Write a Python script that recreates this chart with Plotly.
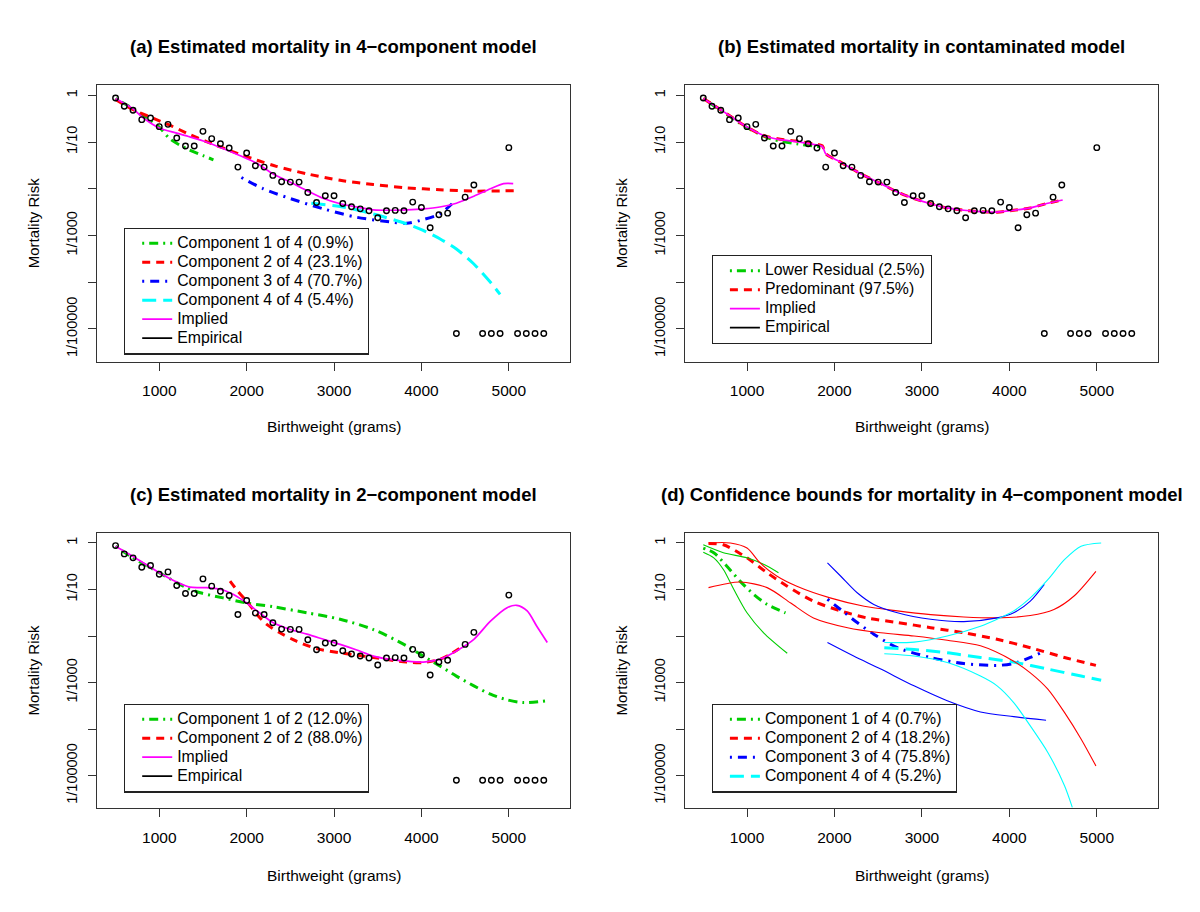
import numpy as np
import plotly.graph_objects as go

# ---------------- data ----------------
# Birthweight categories (grams) and empirical mortality rates (0 = no deaths)
BIRTHWEIGHT = [500, 600, 700, 800, 900, 1000, 1100, 1200, 1300, 1400,
               1500, 1600, 1700, 1800, 1900, 2000, 2100, 2200, 2300, 2400,
               2500, 2600, 2700, 2800, 2900, 3000, 3100, 3200, 3300, 3400,
               3500, 3600, 3700, 3800, 3900, 4000, 4100, 4200, 4300, 4400,
               4500, 4600, 4700, 4800, 4900, 5000, 5100, 5200, 5300, 5400]
EMPIRICAL_RATE = [0.877, 0.581, 0.478, 0.301, 0.327, 0.213, 0.239, 0.122, 0.082, 0.082,
                  0.169, 0.118, 0.092, 0.0743, 0.0291, 0.0581, 0.0311, 0.0291, 0.0193, 0.0141,
                  0.0139, 0.0139, 0.00834, 0.00509, 0.00708, 0.00708, 0.00485, 0.00411, 0.00372, 0.00338,
                  0.00239, 0.00338, 0.00344, 0.00338, 0.00518, 0.00398, 0.00146, 0.00277, 0.00301, 0.0,
                  0.00662, 0.0120, 0.0, 0.0, 0.0, 0.0757, 0.0, 0.0, 0.0, 0.0]
ZERO_DISPLAY_RATE = 8e-6   # where zero-mortality bins are drawn

# (a) 4-component model : curves as (birthweight, log10 risk)
A_C1_BW = [500, 700, 890, 1000, 1120, 1310, 1500, 1620]
A_C1_LOG = [-0.07, -0.29, -0.54, -0.68, -0.93, -1.14, -1.29, -1.38]
A_C2_BW = [500, 700, 890, 1120, 1350, 1540, 1920, 2120, 2340, 2690, 3070, 3450, 3830, 4210, 4600, 5070]
A_C2_LOG = [-0.09, -0.31, -0.46, -0.64, -0.84, -0.99, -1.26, -1.39, -1.52, -1.68, -1.82, -1.91, -1.98, -2.02, -2.05, -2.04]
A_C3_BW = [1940, 2190, 2500, 2880, 3260, 3640, 3830, 4020, 4210, 4350]
A_C3_LOG = [-1.76, -2.00, -2.21, -2.43, -2.61, -2.71, -2.74, -2.66, -2.54, -2.32]
A_C4_BW = [2740, 3070, 3450, 3830, 4020, 4210, 4400, 4600, 4790, 4900]
A_C4_LOG = [-2.31, -2.38, -2.54, -2.75, -2.89, -3.07, -3.29, -3.61, -4.00, -4.26]
A_IMP_BW = [500, 700, 800, 1000, 1200, 1350, 1540, 1730, 1920, 2120, 2300, 2500, 2690,
            2880, 3070, 3260, 3450, 3640, 3830, 4020, 4210, 4400, 4600, 4790, 4940, 5050]
A_IMP_LOG = [-0.07, -0.29, -0.46, -0.70, -0.81, -0.89, -1.00, -1.14, -1.29, -1.46, -1.68, -1.86, -2.04,
             -2.21, -2.32, -2.39, -2.45, -2.46, -2.45, -2.43, -2.39, -2.31, -2.16, -2.00, -1.89, -1.89]
A_LABELS = ["Component 1 of 4 (0.9%)", "Component 2 of 4 (23.1%)",
            "Component 3 of 4 (70.7%)", "Component 4 of 4 (5.4%)"]

# (b) contaminated model
B_LR_BW = [500, 1000, 1270, 1570, 1880]
B_LR_LOG = [-0.07, -0.69, -0.93, -1.04, -1.11]
B_PRED_BW = [500, 700, 1000, 1190, 1380, 1570, 1760, 1860, 1900, 2070, 2300, 2530,
             2720, 2910, 3100, 3290, 3480, 3670, 3860, 4050, 4240, 4440, 4610]
B_PRED_LOG = [-0.07, -0.31, -0.68, -0.86, -0.94, -0.98, -1.04, -1.08, -1.25, -1.43, -1.68, -1.89,
              -2.07, -2.21, -2.32, -2.41, -2.46, -2.49, -2.50, -2.46, -2.41, -2.31, -2.24]
B_IMP_BW = [500, 700, 1000, 1190, 1380, 1570, 1760, 1860, 1900, 2070, 2300, 2530,
            2720, 2910, 3100, 3290, 3480, 3670, 3860, 4050, 4240, 4440, 4610]
B_IMP_LOG = [-0.07, -0.31, -0.68, -0.86, -0.95, -0.99, -1.05, -1.09, -1.25, -1.43, -1.68, -1.89,
             -2.07, -2.21, -2.32, -2.41, -2.46, -2.49, -2.50, -2.46, -2.41, -2.31, -2.24]
B_LABELS = ["Lower Residual (2.5%)", "Predominant (97.5%)"]

# (c) 2-component model
C_C1_BW = [500, 700, 1000, 1310, 1470, 1730, 2000, 2300, 2690, 3070, 3450, 3830, 4020,
           4210, 4400, 4600, 4790, 4980, 5170, 5440]
C_C1_LOG = [-0.07, -0.32, -0.64, -0.96, -1.07, -1.18, -1.29, -1.37, -1.50, -1.64, -1.86, -2.21, -2.43,
            -2.64, -2.86, -3.07, -3.25, -3.37, -3.43, -3.39]
C_C2_BW = [1810, 1900, 2000, 2120, 2230, 2380, 2570, 2800, 3070, 3450, 3830, 4020, 4210, 4330, 4480]
C_C2_LOG = [-0.82, -1.04, -1.25, -1.54, -1.75, -1.93, -2.11, -2.27, -2.36, -2.46, -2.56, -2.57, -2.50, -2.39, -2.21]
C_IMP_BW = [500, 700, 1000, 1200, 1350, 1540, 1730, 1850, 2000, 2120, 2300, 2500, 2690, 2880, 3070,
            3260, 3450, 3640, 3830, 4020, 4100, 4210, 4400, 4600, 4790, 4980, 5090, 5210, 5320, 5440]
C_IMP_LOG = [-0.07, -0.29, -0.64, -0.84, -0.95, -0.96, -1.01, -1.11, -1.29, -1.46, -1.71, -1.86, -1.96, -2.07, -2.18,
             -2.30, -2.43, -2.50, -2.54, -2.56, -2.54, -2.50, -2.32, -2.07, -1.68, -1.39, -1.34, -1.46, -1.79, -2.14]
C_LABELS = ["Component 1 of 2 (12.0%)", "Component 2 of 2 (88.0%)"]

# (d) confidence bounds, 4-component model (estimate, upper, lower)
D_C1_BW = [500, 620, 770, 920, 1080, 1230, 1440]
D_C1_LOG = [-0.11, -0.21, -0.50, -0.82, -1.11, -1.32, -1.50]
D_C1_HI_BW = [500, 730, 1000, 1190, 1360]
D_C1_HI_LOG = [-0.04, -0.21, -0.32, -0.46, -0.64]
D_C1_LO_BW = [500, 620, 730, 850, 1000, 1190, 1460]
D_C1_LO_LOG = [-0.20, -0.32, -0.57, -1.00, -1.50, -1.93, -2.37]
D_C2_BW = [560, 730, 1000, 1230, 1460, 1760, 2070, 2370, 2720, 3100, 3480, 3860, 4240, 4630, 4990]
D_C2_LOG = [-0.01, -0.04, -0.32, -0.64, -0.93, -1.25, -1.46, -1.61, -1.71, -1.82, -1.93, -2.07, -2.25, -2.46, -2.63]
D_C2_HI_BW = [560, 810, 1000, 1150, 1340, 1570, 1950, 2340, 2720, 3100, 3480, 3860, 4240, 4510, 4740, 4990]
D_C2_HI_LOG = [0.0, 0.0, -0.11, -0.43, -0.71, -0.93, -1.18, -1.36, -1.46, -1.54, -1.59, -1.61, -1.56, -1.43, -1.14, -0.61]
D_C2_LO_BW = [560, 920, 1230, 1500, 1760, 2150, 2530, 2910, 3290, 3670, 4050, 4240, 4440, 4630, 4820, 4990]
D_C2_LO_LOG = [-0.96, -0.84, -0.96, -1.29, -1.61, -1.82, -1.93, -2.00, -2.09, -2.21, -2.54, -2.79, -3.14, -3.64, -4.21, -4.79]
D_C3_BW = [1920, 2070, 2260, 2450, 2720, 3100, 3480, 3860, 4050, 4240, 4360]
D_C3_LOG = [-1.21, -1.43, -1.71, -1.96, -2.25, -2.46, -2.59, -2.63, -2.59, -2.46, -2.36]
D_C3_HI_BW = [1920, 2070, 2260, 2450, 2720, 3100, 3480, 3860, 4050, 4240, 4400]
D_C3_HI_LOG = [-0.43, -0.71, -1.07, -1.32, -1.50, -1.64, -1.69, -1.61, -1.50, -1.25, -0.89]
D_C3_LO_BW = [1920, 2220, 2530, 2910, 3290, 3670, 4050, 4420]
D_C3_LO_LOG = [-2.14, -2.43, -2.71, -3.07, -3.39, -3.63, -3.73, -3.81]
D_C4_BW = [2570, 2910, 3290, 3670, 4050, 4440, 4820, 5050]
D_C4_LOG = [-2.25, -2.29, -2.36, -2.46, -2.56, -2.71, -2.86, -2.95]
D_C4_HI_BW = [2570, 2910, 3290, 3670, 3860, 4050, 4240, 4440, 4630, 4820, 5050]
D_C4_HI_LOG = [-2.14, -2.13, -2.00, -1.79, -1.64, -1.46, -1.18, -0.79, -0.36, -0.07, 0.0]
D_C4_LO_BW = [2570, 2910, 3290, 3670, 3860, 4050, 4240, 4440, 4630, 4720]
D_C4_LO_LOG = [-2.38, -2.43, -2.57, -2.86, -3.07, -3.43, -3.93, -4.50, -5.21, -5.68]
D_LABELS = ["Component 1 of 4 (0.7%)", "Component 2 of 4 (18.2%)",
            "Component 3 of 4 (75.8%)", "Component 4 of 4 (5.2%)"]

TITLES = ["(a) Estimated mortality in 4\u2212component model",
          "(b) Estimated mortality in contaminated model",
          "(c) Estimated mortality in 2\u2212component model",
          "(d) Confidence bounds for mortality in 4\u2212component model"]
Y_TICK_VALUES = [1, 0.1, 0.01, 0.001, 0.0001, 0.00001]
Y_TICK_TEXT = ["1", "1/10", "", "1/1000", "", "1/100000"]
X_TICK_VALUES = [1000, 2000, 3000, 4000, 5000]

# ---------------- styles ----------------
GREEN, RED, BLUE, CYAN, MAGENTA = "#00CD00", "#FF0000", "#0000FF", "#00FFFF", "#FF00FF"
DASH_GREEN = "2px,5px,9px,5px"
DASH_RED = "8px,6px"
DASH_BLUE = "2px,6px,9px,6px"
DASH_CYAN = "14px,7px"
FONT = "Liberation Sans, Arial, Helvetica, sans-serif"
LEGEND_TEXT_PX = 15.8

fig = go.Figure()

W, H = 1200, 912
PAGE_OFFSET = 8  # page body margin shifts the figure by this many px


def px_x(px):
    return (px - PAGE_OFFSET) / W


def px_y(py):
    return 1 - (py - PAGE_OFFSET) / H


X_LEFT = [px_x(97.3), px_x(570)]
X_RIGHT = [px_x(685), px_x(1158)]
Y_TOP = [px_y(361.7), px_y(85)]
Y_BOT = [px_y(808.3), px_y(532.7)]
PANELS = [("x", "y", X_LEFT, Y_TOP, "legend"),
          ("x2", "y2", X_RIGHT, Y_TOP, "legend2"),
          ("x3", "y3", X_LEFT, Y_BOT, "legend3"),
          ("x4", "y4", X_RIGHT, Y_BOT, "legend4")]


def legend_name(text):
    return '<span style="font-size:%spx">%s</span>' % (LEGEND_TEXT_PX, text)


def add_curve(p, bw, logv, color, width, dash=None, name=None, legend=True):
    xa, ya, _, _, lg = PANELS[p]
    fig.add_trace(go.Scatter(
        x=bw, y=10 ** np.array(logv), mode="lines",
        name=legend_name(name) if name else None,
        line=dict(color=color, width=width, dash=dash, shape="spline", smoothing=0.8),
        xaxis=xa, yaxis=ya, legend=lg, showlegend=legend and name is not None,
        hoverinfo="skip"))


def add_legend_only(p, name, color, width):
    xa, ya, _, _, lg = PANELS[p]
    fig.add_trace(go.Scatter(x=[None], y=[None], mode="lines", name=legend_name(name),
                             line=dict(color=color, width=width),
                             xaxis=xa, yaxis=ya, legend=lg, showlegend=True))


def add_empirical(p):
    xa, ya, _, _, lg = PANELS[p]
    rate = np.array(EMPIRICAL_RATE)
    shown = np.where(rate > 0, rate, ZERO_DISPLAY_RATE)
    fig.add_trace(go.Scatter(
        x=BIRTHWEIGHT, y=shown, mode="markers", showlegend=False,
        marker=dict(symbol="circle-open", size=5.5, color="black", line=dict(width=1.4, color="black")),
        xaxis=xa, yaxis=ya, legend=lg))


# (a)
add_curve(0, A_C1_BW, A_C1_LOG, GREEN, 3, DASH_GREEN, A_LABELS[0])
add_curve(0, A_C2_BW, A_C2_LOG, RED, 3, DASH_RED, A_LABELS[1])
add_curve(0, A_C3_BW, A_C3_LOG, BLUE, 3, DASH_BLUE, A_LABELS[2])
add_curve(0, A_C4_BW, A_C4_LOG, CYAN, 3, DASH_CYAN, A_LABELS[3])
add_curve(0, A_IMP_BW, A_IMP_LOG, MAGENTA, 1.7, None, "Implied")
add_legend_only(0, "Empirical", "black", 1.8)
add_empirical(0)

# (b)
add_curve(1, B_LR_BW, B_LR_LOG, GREEN, 3, DASH_GREEN, B_LABELS[0])
add_curve(1, B_PRED_BW, B_PRED_LOG, RED, 3, DASH_RED, B_LABELS[1])
add_curve(1, B_IMP_BW, B_IMP_LOG, MAGENTA, 1.7, None, "Implied")
add_legend_only(1, "Empirical", "black", 1.8)
add_empirical(1)

# (c)
add_curve(2, C_C1_BW, C_C1_LOG, GREEN, 3, DASH_GREEN, C_LABELS[0])
add_curve(2, C_C2_BW, C_C2_LOG, RED, 3, DASH_RED, C_LABELS[1])
add_curve(2, C_IMP_BW, C_IMP_LOG, MAGENTA, 1.7, None, "Implied")
add_legend_only(2, "Empirical", "black", 1.8)
add_empirical(2)

# (d)
add_curve(3, D_C1_BW, D_C1_LOG, GREEN, 3, DASH_GREEN, D_LABELS[0])
add_curve(3, D_C2_BW, D_C2_LOG, RED, 3, DASH_RED, D_LABELS[1])
add_curve(3, D_C3_BW, D_C3_LOG, BLUE, 3, DASH_BLUE, D_LABELS[2])
add_curve(3, D_C4_BW, D_C4_LOG, CYAN, 3, DASH_CYAN, D_LABELS[3])
for bw, lv, col in [(D_C1_HI_BW, D_C1_HI_LOG, GREEN), (D_C1_LO_BW, D_C1_LO_LOG, GREEN),
                    (D_C2_HI_BW, D_C2_HI_LOG, RED), (D_C2_LO_BW, D_C2_LO_LOG, RED),
                    (D_C3_HI_BW, D_C3_HI_LOG, BLUE), (D_C3_LO_BW, D_C3_LO_LOG, BLUE),
                    (D_C4_HI_BW, D_C4_HI_LOG, CYAN), (D_C4_LO_BW, D_C4_LO_LOG, CYAN)]:
    add_curve(3, bw, lv, col, 1.1, None, None, legend=False)

# ---------------- layout ----------------
layout = dict(width=W, height=H, margin=dict(l=0, r=0, t=0, b=0, autoexpand=False),
              paper_bgcolor="white", plot_bgcolor="white",
              font=dict(family=FONT, size=15, color="black"))
annotations = []
LEGEND_POS = [(124, 227.5), (711.7, 255), (124, 703.5), (711.7, 703.5)]
for i, (xa, ya, xd, yd, lg) in enumerate(PANELS):
    xkey = "xaxis" if xa == "x" else "xaxis" + xa[1:]
    ykey = "yaxis" if ya == "y" else "yaxis" + ya[1:]
    layout[xkey] = dict(domain=xd, anchor=ya, range=[291, 5700], tickvals=X_TICK_VALUES,
                        ticks="outside", ticklen=8, tickwidth=1, tickcolor="#333",
                        showline=True, mirror=True, linecolor="#333", linewidth=1.2,
                        showgrid=False, zeroline=False, ticklabelstandoff=7,
                        tickfont=dict(size=15.5), automargin=False)
    layout[ykey] = dict(domain=yd, anchor=xa, type="log", range=[-5.70, 0.22],
                        tickvals=Y_TICK_VALUES, ticktext=Y_TICK_TEXT, tickangle=-90,
                        ticks="outside", ticklen=8, tickwidth=1, tickcolor="#333",
                        showline=True, mirror=True, linecolor="#333", linewidth=1.2,
                        showgrid=False, zeroline=False, ticklabelstandoff=5,
                        tickfont=dict(size=14.5), automargin=False)
    lx, ly = LEGEND_POS[i]
    layout[lg] = dict(x=px_x(lx), y=px_y(ly), xanchor="left", yanchor="top",
                      xref="paper", yref="paper",
                      bordercolor="#222", borderwidth=1.2, bgcolor="white",
                      font=dict(size=12, family=FONT), tracegroupgap=0,
                      itemwidth=30, indentation=12)
    xc = (xd[0] + xd[1]) / 2
    top_px = 47 if i < 2 else 495
    annotations.append(dict(text="<b>" + TITLES[i] + "</b>", x=xc, y=px_y(top_px),
                            xref="paper", yref="paper", showarrow=False,
                            xanchor="center", yanchor="middle", font=dict(size=18.5)))
    xl_px = 427 if i < 2 else 875
    annotations.append(dict(text="Birthweight (grams)", x=xc, y=px_y(xl_px),
                            xref="paper", yref="paper", showarrow=False,
                            xanchor="center", yanchor="middle", font=dict(size=15.5)))
    ylab_x = 33 if i % 2 == 0 else 621
    annotations.append(dict(text="Mortality Risk", x=px_x(ylab_x), y=(yd[0] + yd[1]) / 2,
                            xref="paper", yref="paper", showarrow=False, textangle=-90,
                            xanchor="center", yanchor="middle", font=dict(size=15)))
layout["annotations"] = annotations
fig.update_layout(**layout)

fig.write_html("out.html")
